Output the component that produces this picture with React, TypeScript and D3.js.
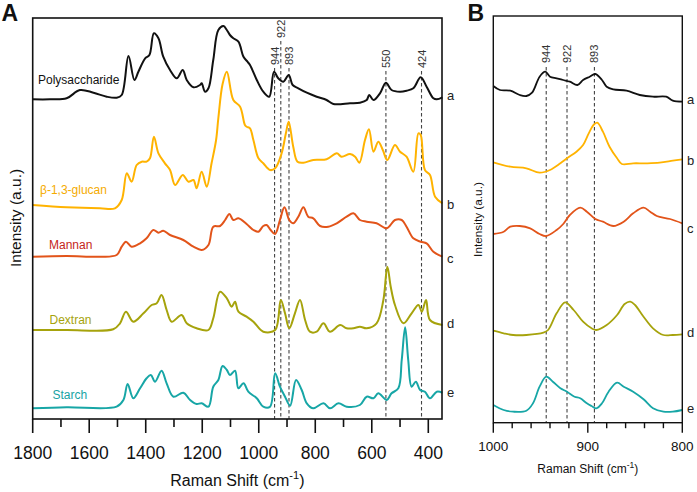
import React from "react";
import * as d3 from "d3";

// ---------- Data (Raman shift in cm^-1, stacked intensity in a.u.) ----------
const polysaccharideA: [number, number][] = [
  [1800, 319.7], [1739, 319.7], [1680, 320.7], [1633, 329], [1585, 326.3], [1538, 322.3], [1503, 321.3],
  [1485, 324], [1461, 363], [1440, 339], [1426, 347.3], [1402, 360.7], [1387, 364], [1371, 385.7],
  [1355, 380.7], [1338, 362.3], [1314, 349], [1290, 340.7], [1269, 349], [1255, 339], [1231, 331.7],
  [1208, 334], [1202, 335.7], [1190, 327.3], [1178, 330.7], [1161, 359], [1143, 389], [1125, 393],
  [1113, 389], [1102, 384], [1090, 380.7], [1072, 377.3], [1054, 362.3], [1040, 357.3], [1031, 354],
  [1007, 339], [984, 327.3], [963, 322.3], [946, 347.3], [931, 340.7], [913, 337.3], [894, 344],
  [880, 334], [860, 330.7], [830, 326.3], [795, 322.3], [760, 319], [736, 315], [677, 315.7],
  [642, 316.3], [618, 319], [609, 324], [594, 319], [571, 325.7], [550, 336.3], [530, 329],
  [500, 327.3], [477, 328.3], [453, 330.7], [427, 341.7], [406, 332.3], [382, 320.7], [370, 319.7],
  [350, 321.7],
];
const glucanA: [number, number][] = [
  [1800, 214], [1680, 211.7], [1562, 210.7], [1509, 210.7], [1485, 219], [1467, 245.7], [1450, 237.3],
  [1432, 254], [1414, 257.3], [1397, 257.3], [1385, 260.7], [1371, 282.3], [1355, 265.7], [1332, 255.7],
  [1314, 249], [1296, 234], [1269, 244], [1249, 237.3], [1231, 239], [1220, 230.7], [1202, 247.3],
  [1184, 232.3], [1167, 255.7], [1151, 279], [1143, 301], [1128, 335], [1113, 347.3], [1090, 319],
  [1066, 312.3], [1049, 294], [1043, 292.3], [1031, 290.7], [1019, 279], [1001, 260.7], [984, 255.7],
  [960, 249], [942, 250.7], [919, 265.7], [904, 285.7], [894, 297.3], [878, 272.3], [863, 257.3],
  [842, 256.3], [807, 259], [760, 259.7], [724, 265.7], [707, 262.3], [677, 265], [659, 262.3],
  [644, 256.3], [624, 279], [610, 289.7], [594, 267.3], [577, 277.3], [561, 269], [545, 259],
  [518, 274], [500, 267.3], [477, 262.3], [453, 247.3], [435, 285.7], [427, 284], [412, 249],
  [394, 244], [376, 222.3], [350, 215.7],
];
const mannanA: [number, number][] = [
  [1800, 162.3], [1680, 163], [1562, 162.3], [1503, 164], [1485, 172.3], [1470, 177.3], [1450, 172.3],
  [1420, 175.7], [1397, 180.7], [1373, 189], [1355, 186.3], [1338, 188.3], [1314, 184], [1267, 179],
  [1231, 172.3], [1202, 169], [1178, 174], [1161, 192.3], [1137, 193], [1119, 199], [1104, 205],
  [1090, 199], [1072, 200.7], [1043, 195], [1019, 189], [1001, 187.3], [984, 193], [972, 194],
  [958, 189], [942, 185], [925, 199], [909, 211.7], [892, 199], [878, 195.7], [860, 202.3],
  [842, 211.7], [825, 202.3], [807, 200.7], [783, 193], [754, 192.3], [724, 195.7], [689, 202.3],
  [665, 205.7], [642, 199], [618, 197.3], [583, 195.7], [547, 190.7], [518, 199], [494, 199],
  [477, 192.3], [453, 180.7], [427, 177.3], [406, 175.7], [382, 167.3], [350, 162.3],
];
const dextranA: [number, number][] = [
  [1800, 89], [1680, 89], [1515, 89.7], [1491, 95.7], [1470, 107.3], [1444, 97.3], [1408, 105.7],
  [1379, 114], [1361, 115.7], [1344, 124], [1326, 109], [1308, 97.3], [1273, 104], [1255, 95.7],
  [1220, 90.7], [1178, 89], [1161, 100.7], [1137, 127.3], [1113, 120.7], [1096, 112.3], [1084, 117.3],
  [1072, 107.3], [1043, 102.3], [1019, 97.3], [984, 87.3], [942, 89], [922, 119], [907, 105.7],
  [892, 90.7], [872, 105.7], [854, 119], [836, 99], [819, 87.3], [795, 87.3], [771, 95.7],
  [748, 87.3], [712, 94], [689, 90.7], [665, 90.7], [642, 92.3], [618, 90.7], [583, 95.7],
  [559, 119], [545, 152.3], [533, 132.3], [518, 114], [488, 95.7], [459, 105.7], [435, 114],
  [423, 107.3], [408, 119], [394, 99], [350, 94],
];
const starchA: [number, number][] = [
  [1800, 10.7], [1680, 11.7], [1503, 12.3], [1479, 19], [1464, 35], [1444, 20.7], [1420, 30.7],
  [1397, 40.7], [1382, 44], [1367, 37.3], [1344, 48.3], [1326, 35.7], [1302, 22.3], [1267, 26.3],
  [1243, 19], [1220, 15], [1202, 15.7], [1178, 12.3], [1161, 32.3], [1143, 39], [1128, 53],
  [1113, 49], [1102, 44], [1084, 48.3], [1072, 30.7], [1054, 35.7], [1037, 27.3], [1007, 20.7],
  [984, 12.3], [960, 12.3], [942, 45.7], [925, 32.3], [907, 22.3], [889, 13.3], [868, 39],
  [848, 29], [830, 15.7], [807, 10.7], [771, 15.7], [748, 10.7], [718, 15.7], [689, 12.3],
  [642, 14], [618, 22.3], [594, 20.7], [577, 25.7], [547, 19], [530, 25.7], [506, 30.7],
  [494, 59], [482, 91.7], [471, 59], [459, 32.3], [444, 37.3], [429, 29], [412, 27.3],
  [394, 20.7], [370, 27.3], [350, 26.3],
];

const polysaccharideB: [number, number][] = [
  [1000, 336.7], [993, 332.7], [982, 332], [972, 327.7], [965, 326.7], [959, 330], [951, 346],
  [945, 351], [940, 346], [933, 344.4], [926, 342.7], [919, 341], [911, 337.7], [905, 342.7],
  [898, 346], [892, 348.7], [885, 342.7], [880, 336], [873, 333.4], [859, 332], [845, 327.7],
  [831, 326], [817, 326], [810, 322], [800, 321],
];
const glucanB: [number, number][] = [
  [1000, 260.4], [982, 256], [965, 254.4], [951, 250], [940, 252.7], [929, 259.4], [922, 264.4],
  [912, 271], [905, 277.7], [899, 289.4], [894, 297.7], [890, 300], [884, 291], [877, 276],
  [869, 264.4], [864, 258.7], [852, 259.4], [838, 259.4], [824, 260], [810, 262], [800, 263.4],
];
const mannanB: [number, number][] = [
  [1000, 188.7], [989, 191], [982, 196], [972, 196.7], [961, 194.4], [951, 188.7], [944, 186.7],
  [933, 192.7], [926, 198.7], [919, 207.7], [908, 215], [901, 211], [892, 203.7], [884, 201],
  [873, 196.7], [862, 201], [852, 209.4], [841, 215], [834, 211], [827, 206.7], [813, 203.7],
  [800, 199.4],
];
const dextranB: [number, number][] = [
  [1000, 92], [989, 89.4], [979, 87.7], [965, 87.7], [947, 90], [942, 92.7], [933, 109.4],
  [924, 120.4], [915, 112.7], [905, 101], [896, 94.4], [891, 92.7], [880, 97.7], [869, 107.7],
  [861, 118.7], [855, 121], [850, 117.7], [841, 106], [831, 94.4], [820, 87.7], [810, 87.7],
  [800, 88.4],
];
const starchB: [number, number][] = [
  [1000, 17.7], [989, 12.7], [979, 11], [965, 12], [958, 19.4], [951, 36], [944, 46], [937, 41],
  [929, 34.4], [922, 31], [914, 26], [908, 24.4], [901, 19.4], [896, 16.7], [891, 14.4], [885, 19.4],
  [878, 31], [869, 40], [862, 36], [852, 31], [841, 23.4], [831, 14.4], [820, 11], [810, 11],
  [800, 12.7],
];

const seriesNames = ["Polysaccharide", "β-1,3-glucan", "Mannan", "Dextran", "Starch"];
const seriesLetters = ["a", "b", "c", "d", "e"];
const peaksA = [944, 922, 893, 550, 424];
const peaksB = [944, 922, 893];
const ticksAMajor = [1800, 1600, 1400, 1200, 1000, 800, 600, 400];
const ticksAMinor = [1700, 1500, 1300, 1100, 900, 700, 500];
const ticksBMajor = [1000, 900, 800];
const ticksBMinor = [980, 960, 940, 920, 880, 860, 840, 820];

// ---------- Styling ----------
const lineColors = ["#111111", "#ffb300", "#e2541a", "#a6a30c", "#17a6a6"];
const labelColors = ["#111111", "#f5ab00", "#c4261a", "#a6a30c", "#17a3a3"];
const FONT = "'Liberation Sans', Arial, sans-serif";

const W = 697;
const H = 492;

// Panel A geometry
const A = { left: 32.7, right: 442, top: 18, bottom: 419 };
const xA = d3.scaleLinear().domain([1800, 350]).range([A.left, A.left + (1800 - 350) * 0.28257]);
const yA = d3.scaleLinear().domain([0, 401]).range([A.bottom, A.top]);
// Panel B geometry
const B = { left: 493.3, right: 682.3, top: 16, bottom: 422.7 };
const xB = d3.scaleLinear().domain([1000, 800]).range([B.left, B.right]);
const yB = d3.scaleLinear().domain([0, 406.7]).range([B.bottom, B.top]);

const dataA = [polysaccharideA, glucanA, mannanA, dextranA, starchA];
const dataB = [polysaccharideB, glucanB, mannanB, dextranB, starchB];

// label layout (positions in px)
const nameLabelPos = [
  { x: 38, y: 83.5 },
  { x: 40, y: 194 },
  { x: 49, y: 249 },
  { x: 49.5, y: 324 },
  { x: 52.5, y: 399 },
];
const letterYA = [100, 209, 263, 328, 397];
const letterYB = [104, 165, 233, 337, 413];
const peakLabelBottomA = [65, 38, 65, 68, 68];
const peakLineTopA = [68, 41, 68, 71, 71];

export default function App() {
  const lineA = d3
    .line<[number, number]>()
    .x((d) => xA(d[0]))
    .y((d) => yA(d[1]))
    .curve(d3.curveCatmullRom.alpha(0.5));
  const lineB = d3
    .line<[number, number]>()
    .x((d) => xB(d[0]))
    .y((d) => yB(d[1]))
    .curve(d3.curveCatmullRom.alpha(0.5));

  return (
    <svg
      width={W}
      height={H}
      viewBox={`0 0 ${W} ${H}`}
      style={{ position: "absolute", left: 0, top: 0, background: "#fff" }}
      fontFamily={FONT}
    >
      <rect x={0} y={0} width={W} height={H} fill="#fff" />

      {/* Panel letters */}
      <text x={1.5} y={21} fontSize={23} fontWeight="bold" fill="#111">A</text>
      <text x={467.5} y={21} fontSize={23} fontWeight="bold" fill="#111">B</text>

      {/* ---------------- Panel A ---------------- */}
      {peaksA.map((p, i) => (
        <g key={"pa" + p}>
          <line
            x1={xA(p)}
            x2={xA(p)}
            y1={peakLineTopA[i]}
            y2={A.bottom}
            stroke="#444"
            strokeWidth={1.1}
            strokeDasharray="3.5,2.5"
          />
          <text
            transform={`translate(${xA(p) + 4},${peakLabelBottomA[i]}) rotate(-90)`}
            fontSize={11}
            fill="#333"
          >
            {p}
          </text>
        </g>
      ))}

      {dataA.map((d, i) => (
        <path
          key={"la" + i}
          d={lineA(d) || ""}
          fill="none"
          stroke={lineColors[i]}
          strokeWidth={2}
          strokeLinejoin="round"
        />
      ))}

      <rect
        x={A.left}
        y={A.top}
        width={A.right - A.left}
        height={A.bottom - A.top}
        fill="none"
        stroke="#111"
        strokeWidth={1.6}
      />

      {ticksAMajor.map((t) => (
        <g key={"tam" + t}>
          <line x1={xA(t)} x2={xA(t)} y1={A.bottom} y2={A.bottom + 14} stroke="#111" strokeWidth={1.6} />
          <text x={xA(t)} y={459} fontSize={17.5} textAnchor="middle" fill="#111">
            {t}
          </text>
        </g>
      ))}
      {ticksAMinor.map((t) => (
        <line key={"tan" + t} x1={xA(t)} x2={xA(t)} y1={A.bottom} y2={A.bottom + 8} stroke="#111" strokeWidth={1.6} />
      ))}

      <text x={(A.left + A.right) / 2} y={486} fontSize={16} textAnchor="middle" fill="#111">
        Raman Shift (cm
        <tspan fontSize={11} dy={-7}>-1</tspan>
        <tspan dy={7}>)</tspan>
      </text>
      <text
        transform={`translate(20.5,218) rotate(-90)`}
        fontSize={15.5}
        textAnchor="middle"
        fill="#111"
      >
        Intensity (a.u.)
      </text>

      {seriesNames.map((n, i) => (
        <text key={"nm" + i} x={nameLabelPos[i].x} y={nameLabelPos[i].y} fontSize={12} fill={labelColors[i]}>
          {n}
        </text>
      ))}
      {seriesLetters.map((l, i) => (
        <text key={"lta" + i} x={447} y={letterYA[i]} fontSize={13} fill="#222">
          {l}
        </text>
      ))}

      {/* ---------------- Panel B ---------------- */}
      {peaksB.map((p) => (
        <g key={"pb" + p}>
          <line
            x1={xB(p)}
            x2={xB(p)}
            y1={67}
            y2={B.bottom}
            stroke="#444"
            strokeWidth={1.1}
            strokeDasharray="3.5,2.5"
          />
          <text transform={`translate(${xB(p) + 4},63) rotate(-90)`} fontSize={11} fill="#333">
            {p}
          </text>
        </g>
      ))}

      {dataB.map((d, i) => (
        <path
          key={"lb" + i}
          d={lineB(d) || ""}
          fill="none"
          stroke={lineColors[i]}
          strokeWidth={1.8}
          strokeLinejoin="round"
        />
      ))}

      <rect
        x={B.left}
        y={B.top}
        width={B.right - B.left}
        height={B.bottom - B.top}
        fill="none"
        stroke="#111"
        strokeWidth={1.4}
      />
      {ticksBMajor.map((t) => (
        <g key={"tbm" + t}>
          <line x1={xB(t)} x2={xB(t)} y1={B.bottom} y2={B.bottom + 10} stroke="#111" strokeWidth={1.4} />
          <text x={xB(t)} y={451} fontSize={13.5} textAnchor="middle" fill="#111">
            {t}
          </text>
        </g>
      ))}
      {ticksBMinor.map((t) => (
        <line key={"tbn" + t} x1={xB(t)} x2={xB(t)} y1={B.bottom} y2={B.bottom + 5.5} stroke="#111" strokeWidth={1.4} />
      ))}
      <text x={(B.left + B.right) / 2} y={473} fontSize={12} textAnchor="middle" fill="#111">
        Raman Shift (cm
        <tspan fontSize={8.5} dy={-5.5}>-1</tspan>
        <tspan dy={5.5}>)</tspan>
      </text>
      <text transform={`translate(482,219.5) rotate(-90)`} fontSize={11.8} textAnchor="middle" fill="#111">
        Intensity (a.u.)
      </text>
      {seriesLetters.map((l, i) => (
        <text key={"ltb" + i} x={687} y={letterYB[i]} fontSize={13} fill="#222">
          {l}
        </text>
      ))}
    </svg>
  );
}
